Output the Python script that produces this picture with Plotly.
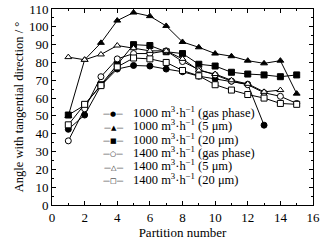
import plotly.graph_objects as go

partition = list(range(1, 16))

g1000_gas = [42.5, 50.5, 67, 76.3, 78.3, 78, 76.3, 74.8, 72.3, 70.8, 69.5, 67.7, 44.8]
g1000_5 = [50, 81.5, 91, 103.5, 108, 106, 100.5, 91.5, 88.5, 85, 83.5, 81, 79.5, 81, 62.5]
g1000_20 = [50.5, 56, 67.5, 79, 90, 89.5, 86, 85, 79, 78, 74.5, 73.5, 73, 72, 73]
g1400_gas = [36, 54, 72, 82, 85, 85, 86.5, 80.5, 76, 73, 69.5, 67.5, 63, 61, 57]
g1400_5 = [83, 81.5, 84.5, 89.5, 88, 86.5, 86.5, 82, 75.5, 73.5, 70, 68, 63.5, 64.5]
g1400_20 = [45, 56.5, 67, 77.5, 82.5, 82, 80, 75.5, 72.5, 67.5, 64.5, 62, 60, 57, 56.5]

names = [
    "1000 m<sup>3</sup>·h<sup>−1</sup> (gas phase)",
    "1000 m<sup>3</sup>·h<sup>−1</sup> (5 μm)",
    "1000 m<sup>3</sup>·h<sup>−1</sup> (20 μm)",
    "1400 m<sup>3</sup>·h<sup>−1</sup> (gas phase)",
    "1400 m<sup>3</sup>·h<sup>−1</sup> (5 μm)",
    "1400 m<sup>3</sup>·h<sup>−1</sup> (20 μm)",
]
legend_glyphs = ["●", "▲", "■", "○", "△", "□"]
series = [g1000_gas, g1000_5, g1000_20, g1400_gas, g1400_5, g1400_20]
symbols = ["circle", "triangle-up", "square", "circle", "triangle-up", "square"]
fills = ["black", "black", "black", "white", "white", "white"]
x_title = "Partition number"
y_title = "Angle with tangential direction / °"

fig = go.Figure()
for name, ys, sym, fc in zip(names, series, symbols, fills):
    fig.add_trace(go.Scatter(
        x=partition[:len(ys)], y=ys, name=name, mode="lines+markers",
        line=dict(color="black", width=1), showlegend=False,
        marker=dict(symbol=sym, size=6, color=fc, line=dict(color="black", width=1)),
    ))

# Legend drawn as text lines inside the plot area
glyph_x = 0.234    # centre of "—●—"
text_x = 0.303     # left edge of label text
leg_y0 = 0.474
leg_dy = 0.068
for i, (name, gl) in enumerate(zip(names, legend_glyphs)):
    y = leg_y0 - i * leg_dy
    fig.add_annotation(
        xref="paper", yref="paper", x=glyph_x, y=y - 0.012,
        xanchor="center", yanchor="middle", showarrow=False,
        text="—" + gl + "—",
        font=dict(family="DejaVu Sans", size=7, color="black"),
    )
    fig.add_annotation(
        xref="paper", yref="paper", x=text_x, y=y,
        xanchor="left", yanchor="middle", showarrow=False,
        text=name,
        font=dict(family="Liberation Serif", size=12.5, color="black"),
    )

axis_common = dict(
    showline=True, linecolor="black", linewidth=1, mirror="allticks",
    ticks="inside", ticklen=4, tickcolor="black", showgrid=False, zeroline=False,
    tickfont=dict(family="Liberation Serif", size=13, color="black"),
    automargin=False,
)
fig.update_xaxes(range=[0, 16], dtick=2, minor=dict(dtick=1, ticks="inside", ticklen=2, tickcolor="black"),
                 title=dict(text=x_title, font=dict(family="Liberation Serif", size=13, color="black"), standoff=2),
                 **axis_common)
fig.update_yaxes(range=[0, 110], dtick=10, minor=dict(dtick=5, ticks="inside", ticklen=2, tickcolor="black"),
                 title=dict(text=y_title, font=dict(family="Liberation Serif", size=12.5, color="black"), standoff=2),
                 **axis_common)

fig.update_layout(
    width=336, height=246,
    margin=dict(l=52, r=23, t=9, b=41),
    plot_bgcolor="white", paper_bgcolor="white",
    font=dict(family="Liberation Serif", color="black"),
    showlegend=False,
)

fig.write_html("out.html", config={"displayModeBar": False},
               post_script="document.body.style.margin='0';")
